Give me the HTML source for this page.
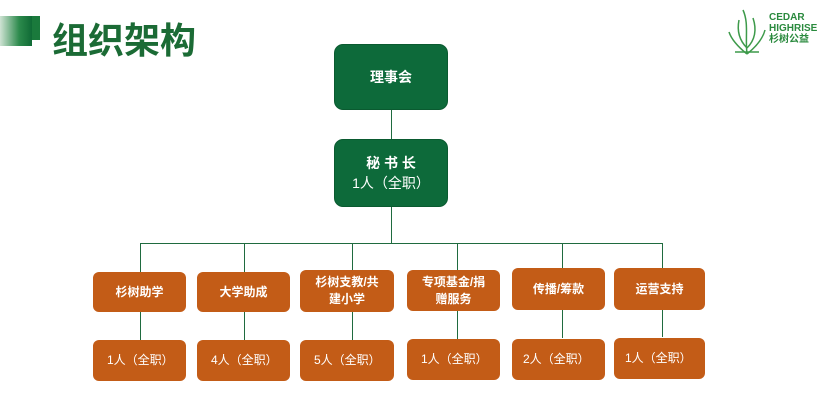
<!DOCTYPE html>
<html><head><meta charset="utf-8"><style>
body{margin:0;width:831px;height:401px;background:#fff;position:relative;overflow:hidden;font-family:"Liberation Sans","Noto Sans CJK SC",sans-serif}
.b{position:absolute;display:flex;align-items:center;justify-content:center;text-align:center;color:#fff;box-sizing:border-box}
.g{background:#0d6a3a;border-radius:9px;border:1px solid #0a5a30;font-size:14px;font-weight:bold}
.o{background:#c35c17;border-radius:6px;font-size:12px;line-height:17px}
.ob{font-weight:bold}
.l{position:absolute;background:#1f6b3f}
</style></head><body>
<div style="position:absolute;left:0;top:16px;width:32px;height:30px;background:linear-gradient(90deg,#cfe3d4,#2c8a4c 60%,#0f6a35)"></div>
<div style="position:absolute;left:32px;top:16px;width:8px;height:24px;background:#1a7a3c"></div>
<div style="position:absolute;left:52px;top:16px;font-size:36px;font-weight:bold;color:#1b6b35;letter-spacing:0px;font-family:'Noto Sans CJK SC',sans-serif;line-height:44px">组织架构</div>
<svg style="position:absolute;left:727px;top:8px" width="40" height="48"><g stroke="#3d9a4a" stroke-width="1.5" fill="none"><path d="M20 46 C18 30 22 15 16 2"/><path d="M20 46 C10 38 4 30 2 24"/><path d="M20 46 C30 38 36 30 38 22"/><path d="M20 40 C12 32 10 22 12 12"/><path d="M20 40 C28 32 30 22 26 10"/><path d="M8 44 L32 44"/></g></svg>
<div style="position:absolute;left:769px;top:12px;font-size:10px;line-height:11px;color:#2a8a3e;font-weight:bold">CEDAR<br>HIGHRISE<br><span style="font-size:10px">杉树公益</span></div>
<div class="b g" style="left:334px;top:44px;width:114px;height:66px">理事会</div>
<div class="l" style="left:391px;top:110px;width:1px;height:30px"></div>
<div class="b g" style="left:334px;top:139px;width:114px;height:68px;font-weight:normal;line-height:20px"><div><b>秘 书 长</b><br>1人（全职）</div></div>
<div class="l" style="left:391px;top:207px;width:1px;height:37px"></div>
<div class="l" style="left:140px;top:243px;width:522px;height:1px"></div>
<div class="l" style="left:140px;top:243px;width:1px;height:29px"></div>
<div class="l" style="left:244px;top:243px;width:1px;height:29px"></div>
<div class="l" style="left:352px;top:243px;width:1px;height:27px"></div>
<div class="l" style="left:457px;top:243px;width:1px;height:27px"></div>
<div class="l" style="left:562px;top:243px;width:1px;height:25px"></div>
<div class="l" style="left:662px;top:243px;width:1px;height:25px"></div>
<div class="b o ob" style="left:93px;top:272px;width:93px;height:40px">杉树助学</div>
<div class="b o ob" style="left:197px;top:272px;width:93px;height:40px">大学助成</div>
<div class="b o ob" style="left:300px;top:270px;width:94px;height:42px">杉树支教/共<br>建小学</div>
<div class="b o ob" style="left:407px;top:270px;width:93px;height:41px">专项基金/捐<br>赠服务</div>
<div class="b o ob" style="left:512px;top:268px;width:93px;height:42px">传播/筹款</div>
<div class="b o ob" style="left:614px;top:268px;width:91px;height:42px">运营支持</div>
<div class="l" style="left:140px;top:312px;width:1px;height:28px"></div>
<div class="l" style="left:244px;top:312px;width:1px;height:28px"></div>
<div class="l" style="left:352px;top:312px;width:1px;height:28px"></div>
<div class="l" style="left:457px;top:311px;width:1px;height:28px"></div>
<div class="l" style="left:562px;top:310px;width:1px;height:28px"></div>
<div class="l" style="left:662px;top:310px;width:1px;height:27px"></div>
<div class="b o" style="left:93px;top:340px;width:93px;height:41px;justify-content:flex-start;padding-left:14px">1人（全职）</div>
<div class="b o" style="left:197px;top:340px;width:93px;height:41px;justify-content:flex-start;padding-left:14px">4人（全职）</div>
<div class="b o" style="left:300px;top:340px;width:94px;height:41px;justify-content:flex-start;padding-left:14px">5人（全职）</div>
<div class="b o" style="left:407px;top:339px;width:93px;height:41px;justify-content:flex-start;padding-left:14px">1人（全职）</div>
<div class="b o" style="left:512px;top:339px;width:93px;height:41px;justify-content:flex-start;padding-left:11px">2人（全职）</div>
<div class="b o" style="left:614px;top:338px;width:91px;height:41px;justify-content:flex-start;padding-left:11px">1人（全职）</div>
</body></html>
